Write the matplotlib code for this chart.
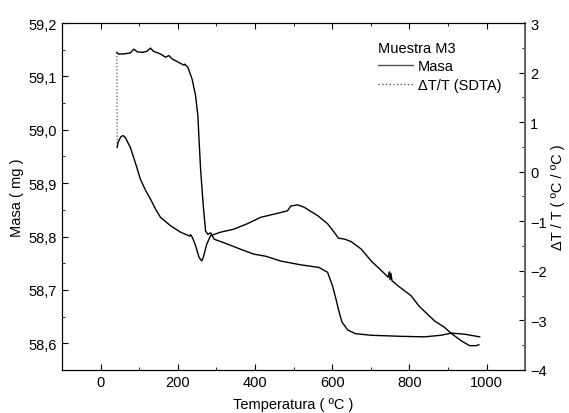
import numpy as np
import matplotlib
matplotlib.use("Agg")
import matplotlib.pyplot as plt
from matplotlib.lines import Line2D
from matplotlib.ticker import MultipleLocator, FuncFormatter

plt.rcParams['font.family'] = ['Liberation Sans', 'DejaVu Sans']
plt.rcParams['font.size'] = 10.5

# mass (TG) curve, left axis
mass_T = [42, 46, 60, 77, 86, 95, 108, 120, 129, 137, 155, 168, 177, 185, 200,
          216, 218, 226, 237, 246, 252, 255, 259, 266, 272, 278, 285, 294, 328,
          363, 397, 428, 467, 518, 566, 588, 601, 610, 616, 625, 640, 660, 700,
          778, 839, 882, 909, 943, 982]
mass_m = [59.145, 59.142, 59.142, 59.144, 59.151, 59.146, 59.145, 59.147, 59.153,
          59.147, 59.142, 59.136, 59.139, 59.133, 59.127, 59.121, 59.123, 59.117,
          59.095, 59.064, 59.026, 58.982, 58.926, 58.857, 58.810, 58.804, 58.807,
          58.795, 58.786, 58.776, 58.767, 58.763, 58.754, 58.747, 58.742, 58.733,
          58.707, 58.682, 58.664, 58.640, 58.625, 58.618, 58.615, 58.613, 58.612,
          58.615, 58.619, 58.617, 58.612]

# SDTA curve, right axis
dta_T = [42, 43, 45, 52, 58, 64, 77, 90, 103, 116, 129, 142, 155, 181, 207, 225,
         231, 233, 238, 246, 255, 262, 266, 275, 285, 311, 345, 380, 415, 458,
         484, 493, 511, 528, 563, 588, 605, 616, 632, 649, 675, 701, 736, 745,
         748, 750, 752, 755, 770, 804, 826, 865, 891, 908, 934, 956, 973, 980]
dta_r = [2.40, 0.49, 0.59, 0.70, 0.73, 0.69, 0.49, 0.18, -0.15, -0.37, -0.55,
         -0.75, -0.92, -1.09, -1.22, -1.28, -1.30, -1.27, -1.33, -1.49, -1.73,
         -1.80, -1.73, -1.46, -1.29, -1.22, -1.16, -1.05, -0.92, -0.84, -0.79,
         -0.69, -0.67, -0.72, -0.89, -1.05, -1.22, -1.34, -1.36, -1.41, -1.56,
         -1.80, -2.06, -2.13, -2.02, -2.18, -2.05, -2.20, -2.30, -2.50, -2.72,
         -3.01, -3.14, -3.26, -3.41, -3.51, -3.51, -3.49]

fig = plt.figure(figsize=(5.69, 4.14), dpi=100)
ax = fig.add_axes([0.109, 0.104, 0.814, 0.838])
ax2 = ax.twinx()

ax.plot(mass_T, mass_m, color='black', lw=1.0)
ax2.plot(dta_T[:2], dta_r[:2], color='#555555', lw=0.9, ls=':')
ax2.plot(dta_T[1:], dta_r[1:], color='black', lw=1.0)

ax.set_xlim(-100, 1100)
ax.set_ylim(58.55, 59.2)
ax2.set_ylim(-4, 3)

ax.xaxis.set_major_locator(MultipleLocator(200))
ax.xaxis.set_minor_locator(MultipleLocator(100))
ax.yaxis.set_major_locator(MultipleLocator(0.1))
ax.yaxis.set_minor_locator(MultipleLocator(0.05))
ax.yaxis.set_major_formatter(FuncFormatter(lambda v, p: f"{v:.1f}".replace('.', ',')))
ax2.yaxis.set_major_locator(MultipleLocator(1))
ax2.yaxis.set_minor_locator(MultipleLocator(0.5))

ax.tick_params(which='both', direction='in', top=True, right=False)
ax.tick_params(which='major', length=4)
ax.tick_params(which='minor', length=2.5)
ax2.tick_params(which='both', direction='in')
ax2.tick_params(which='major', length=4)
ax2.tick_params(which='minor', length=2.5)
ax2.spines['right'].set_color('#666666')
ax2.spines['right'].set_linewidth(1.4)

ax.set_xlabel("Temperatura ( ºC )", labelpad=6)
ax.set_ylabel("Masa ( mg )", labelpad=3)
ax2.set_ylabel("ΔT / T ( ºC / ºC )", labelpad=3)

handles = [Line2D([], [], color='#555555', lw=1.0),
           Line2D([], [], color='#555555', lw=1.0, ls=':')]
leg = ax.legend(handles, ["Masa", "ΔT/T (SDTA)"], title="Muestra M3",
                loc='upper left', bbox_to_anchor=(0.67, 0.965), frameon=False,
                handlelength=2.4, handletextpad=0.3, labelspacing=0.3,
                borderaxespad=0, alignment='left')
leg.get_title().set_fontsize(10.5)

fig.savefig("out.png", dpi=100)
